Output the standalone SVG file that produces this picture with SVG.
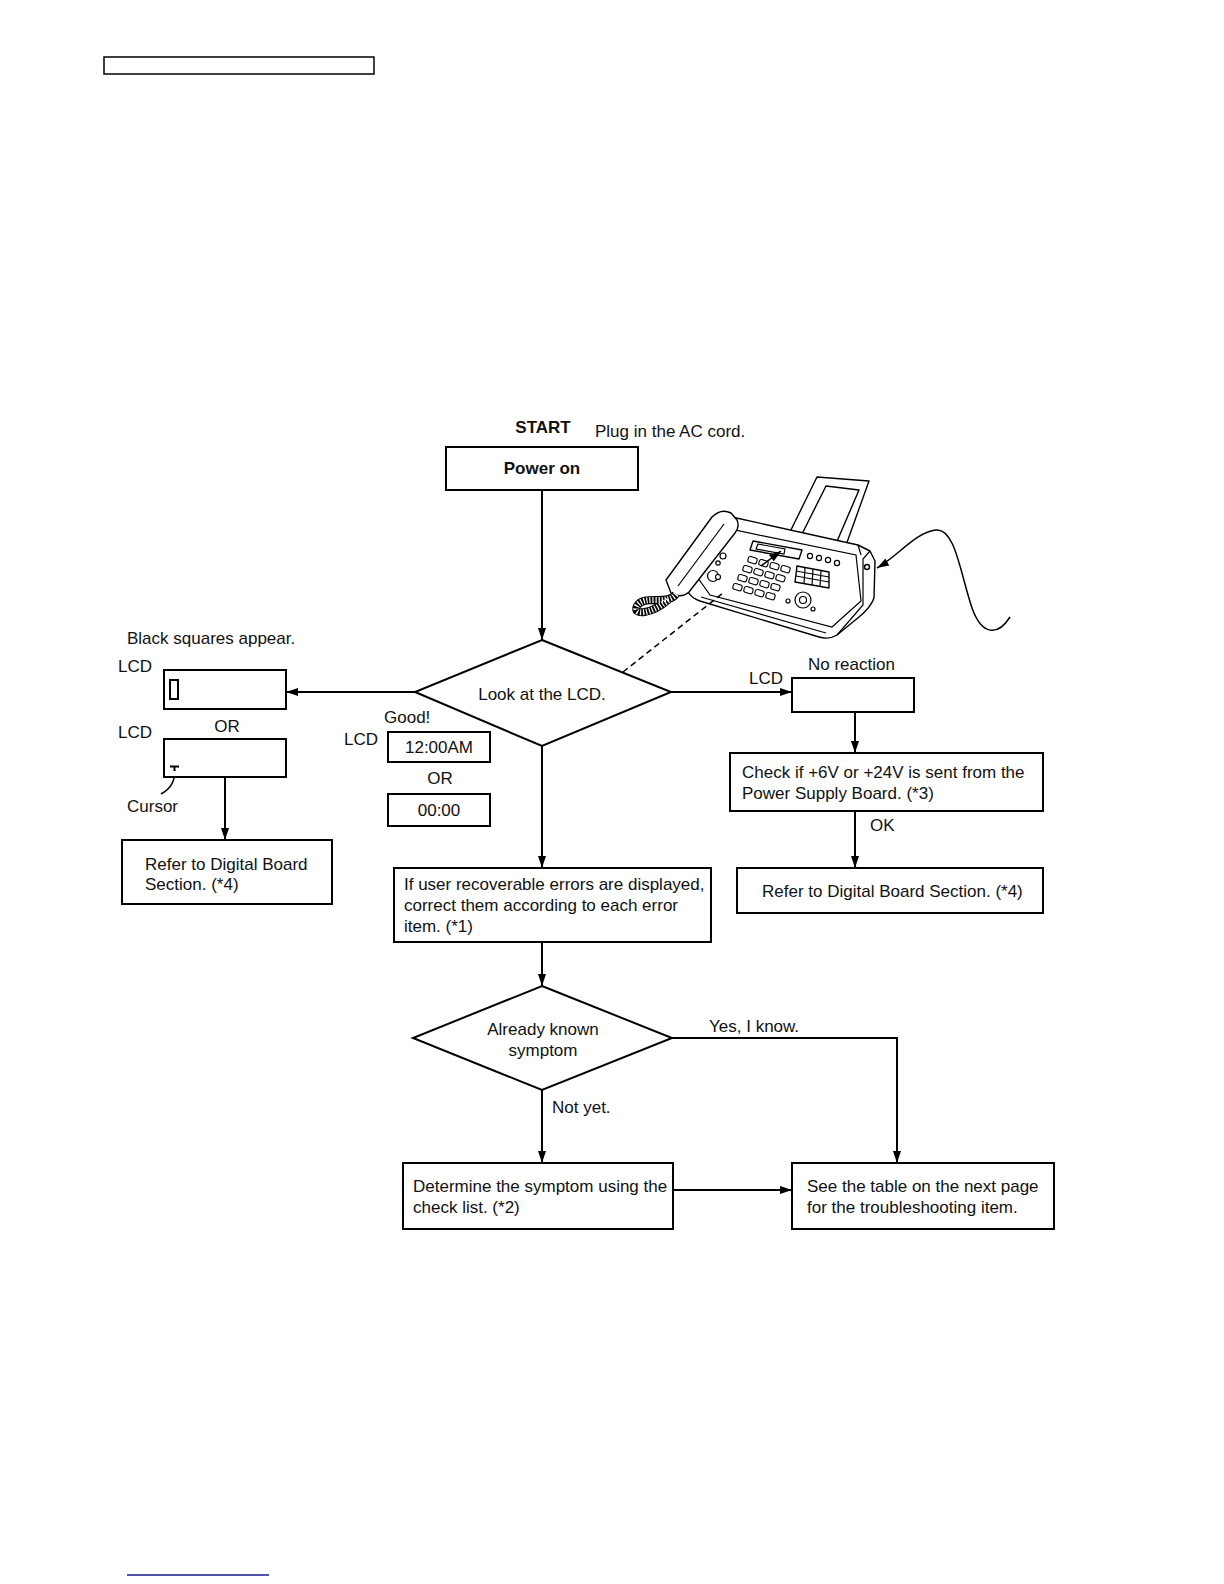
<svg xmlns="http://www.w3.org/2000/svg" width="1224" height="1584" viewBox="0 0 1224 1584">
<defs>
<marker id="ah" viewBox="0 0 12 8" refX="12" refY="4" markerWidth="12" markerHeight="8" markerUnits="userSpaceOnUse" orient="auto">
<path d="M0,0 L12,4 L0,8 Z" fill="#000"/>
</marker>
<style>
text{font-family:"Liberation Sans",Arial,sans-serif;font-size:17px;fill:#111}
.b{font-weight:bold}
.m{text-anchor:middle}
.box{fill:#fff;stroke:#000;stroke-width:2}
.con{fill:none;stroke:#000;stroke-width:2}
.art{fill:#fff;stroke:#000;stroke-width:1.4;stroke-linejoin:round}
.artl{fill:none;stroke:#000;stroke-width:1.2}
</style>
</defs>
<rect width="1224" height="1584" fill="#fff"/>
<rect x="104" y="57" width="270" height="17" fill="none" stroke="#000" stroke-width="1.5"/>
<line x1="127" y1="1575" x2="269" y2="1575" stroke="#1a1a8c" stroke-width="1.5"/>

<!-- fax machine illustration -->
<g id="fax">
<path class="art" d="M786,540 L817,477 L869,481 L845,548 L835,546 L859,490 L826,486 L797,544 Z"/>
<path class="art" d="M686,580 L720,522 Q724,516 732,517 L858,545 L870,551 L875,561 L874,598 Q871,607 859,617 L837,635 Q829,640 819,637 L700,601 Q684,595 686,580 Z"/>
<path class="artl" d="M698,578 L730,529 L856,555 L861,601 L832,627 L710,595 Z"/>
<path class="artl" d="M858,545 L861,555 M870,551 L863,559 L863,605 L837,635"/>
<path class="artl" d="M701,597 L826,633"/>
<circle class="art" cx="867" cy="567" r="2.5"/>
<path class="art" d="M753,541 L802,550 L799,559 L750,550 Z"/>
<path class="artl" d="M758,544 L785,549 L784,554 L756,549 Z"/>
<g fill="#fff" stroke="#000" stroke-width="1.1">
<rect x="748" y="557" width="9" height="6" rx="2" transform="rotate(16 752 560)"/>
<rect x="759" y="560" width="9" height="6" rx="2" transform="rotate(16 763 563)"/>
<rect x="770" y="563" width="9" height="6" rx="2" transform="rotate(16 774 566)"/>
<rect x="781" y="566" width="9" height="6" rx="2" transform="rotate(16 785 569)"/>
<rect x="743" y="566" width="9" height="6" rx="2" transform="rotate(16 747 569)"/>
<rect x="754" y="569" width="9" height="6" rx="2" transform="rotate(16 758 572)"/>
<rect x="765" y="572" width="9" height="6" rx="2" transform="rotate(16 769 575)"/>
<rect x="776" y="575" width="9" height="6" rx="2" transform="rotate(16 780 578)"/>
<rect x="738" y="575" width="9" height="6" rx="2" transform="rotate(16 742 578)"/>
<rect x="749" y="578" width="9" height="6" rx="2" transform="rotate(16 753 581)"/>
<rect x="760" y="581" width="9" height="6" rx="2" transform="rotate(16 764 584)"/>
<rect x="771" y="584" width="9" height="6" rx="2" transform="rotate(16 775 587)"/>
<rect x="733" y="584" width="9" height="6" rx="2" transform="rotate(16 737 587)"/>
<rect x="744" y="587" width="9" height="6" rx="2" transform="rotate(16 748 590)"/>
<rect x="755" y="590" width="9" height="6" rx="2" transform="rotate(16 759 593)"/>
<rect x="766" y="593" width="9" height="6" rx="2" transform="rotate(16 770 596)"/>
</g>
<g fill="#fff" stroke="#000" stroke-width="1.2">
<circle cx="810" cy="556" r="2.6"/>
<circle cx="819" cy="558" r="2.6"/>
<circle cx="828" cy="560" r="2.6"/>
<circle cx="837" cy="563" r="2.6"/>
<circle cx="723" cy="556" r="3"/>
<circle cx="718" cy="563" r="2.2"/>
<circle cx="713" cy="576" r="5.5"/>
<circle cx="718" cy="577" r="2.5"/>
<circle cx="803" cy="600" r="8"/>
<circle cx="803" cy="600" r="3.5"/>
<circle cx="788" cy="601" r="2"/>
<circle cx="813" cy="609" r="2"/>
</g>
<path class="art" d="M797,566 L829,572 L829,588 L795,582 Z"/>
<path class="artl" d="M796,571 L829,577 M796,576 L829,582 M805,568 L804,584 M813,569 L812,585 M821,571 L820,587"/>
<path class="art" d="M666,580 L712,517 Q721,508 731,513 L737,520 Q740,527 735,533 L689,592 Q681,599 671,593 Z"/>
<path class="artl" d="M678,586 L724,524"/>
<path d="M676,594 C668,606 644,594 637,606 C632,616 652,614 668,600" fill="none" stroke="#000" stroke-width="8"/>
<path d="M676,594 C668,606 644,594 637,606 C632,616 652,614 668,600" fill="none" stroke="#fff" stroke-width="6" stroke-dasharray="1.2 1.8"/>
<line x1="761" y1="566" x2="781" y2="551" stroke="#000" stroke-width="1.5" marker-end="url(#ah)"/>
<path d="M1010,617 C998,636 982,636 972,608 C960,572 955,528 936,530 C916,532 898,556 877,568" fill="none" stroke="#000" stroke-width="1.5" marker-end="url(#ah)"/>
</g>

<g id="connectors">
<line class="con" x1="542" y1="490" x2="542" y2="640" marker-end="url(#ah)"/>
<line class="con" x1="415" y1="692" x2="286" y2="692" marker-end="url(#ah)"/>
<line class="con" x1="671" y1="692" x2="792" y2="692" marker-end="url(#ah)"/>
<line class="con" x1="542" y1="746" x2="542" y2="868" marker-end="url(#ah)"/>
<line class="con" x1="225" y1="777" x2="225" y2="840" marker-end="url(#ah)"/>
<line class="con" x1="855" y1="712" x2="855" y2="753" marker-end="url(#ah)"/>
<line class="con" x1="855" y1="811" x2="855" y2="868" marker-end="url(#ah)"/>
<line class="con" x1="542" y1="942" x2="542" y2="986" marker-end="url(#ah)"/>
<line class="con" x1="542" y1="1090" x2="542" y2="1163" marker-end="url(#ah)"/>
<polyline class="con" points="672,1038 897,1038 897,1163" marker-end="url(#ah)"/>
<line class="con" x1="673" y1="1190" x2="792" y2="1190" marker-end="url(#ah)"/>
<line x1="623" y1="672" x2="723" y2="593" stroke="#000" stroke-width="1.5" stroke-dasharray="6 4"/>
<path d="M175,769 C175,780 172,788 161,794" fill="none" stroke="#000" stroke-width="1.5"/>
</g>

<g id="start">
<text class="b m" x="543" y="433">START</text>
<text x="595" y="437">Plug in the AC cord.</text>
</g>
<g id="power_on">
<rect class="box" x="446" y="447" width="192" height="43"/>
<text class="b m" x="542" y="474">Power on</text>
</g>
<g id="look_lcd">
<polygon class="box" points="542,640 671,692 542,746 415,692"/>
<text class="m" x="542" y="700">Look at the LCD.</text>
</g>
<g id="lcd_black">
<text x="127" y="644">Black squares appear.</text>
<text x="118" y="672">LCD</text>
<rect class="box" x="164" y="670" width="122" height="39"/>
<rect x="170" y="680" width="8" height="19" fill="none" stroke="#000" stroke-width="2"/>
</g>
<g id="lcd_cursor">
<text class="m" x="227" y="732">OR</text>
<text x="118" y="738">LCD</text>
<rect class="box" x="164" y="739" width="122" height="38"/>
<path d="M170,766.5 L179,766.5 M174.5,766 L174.5,771" stroke="#000" stroke-width="2"/>
<text x="127" y="812">Cursor</text>
</g>
<g id="refer_left">
<rect class="box" x="122" y="840" width="210" height="64"/>
<text x="145" y="870">Refer to Digital Board</text>
<text x="145" y="890">Section. (*4)</text>
</g>
<g id="lcd_good">
<text x="384" y="723">Good!</text>
<text x="344" y="745">LCD</text>
<rect class="box" x="388" y="732" width="102" height="30"/>
<text class="m" x="439" y="753">12:00AM</text>
<text class="m" x="440" y="784">OR</text>
<rect class="box" x="388" y="794" width="102" height="32"/>
<text class="m" x="439" y="816">00:00</text>
</g>
<g id="user_errors">
<rect class="box" x="394" y="868" width="317" height="74"/>
<text x="404" y="890">If user recoverable errors are displayed,</text>
<text x="404" y="911">correct them according to each error</text>
<text x="404" y="932">item. (*1)</text>
</g>
<g id="no_reaction">
<text x="808" y="670">No reaction</text>
<text x="749" y="684">LCD</text>
<rect class="box" x="792" y="678" width="122" height="34"/>
</g>
<g id="check_power">
<rect class="box" x="730" y="753" width="313" height="58"/>
<text x="742" y="778">Check if +6V or +24V is sent from the</text>
<text x="742" y="799">Power Supply Board. (*3)</text>
<text x="870" y="831">OK</text>
</g>
<g id="refer_right">
<rect class="box" x="737" y="868" width="306" height="45"/>
<text x="762" y="897">Refer to Digital Board Section. (*4)</text>
</g>
<g id="known">
<polygon class="box" points="542,986 672,1038 542,1090 413,1038"/>
<text class="m" x="543" y="1035">Already known</text>
<text class="m" x="543" y="1056">symptom</text>
<text x="709" y="1032">Yes, I know.</text>
<text x="552" y="1113">Not yet.</text>
</g>
<g id="determine">
<rect class="box" x="403" y="1163" width="270" height="66"/>
<text x="413" y="1192">Determine the symptom using the</text>
<text x="413" y="1213">check list. (*2)</text>
</g>
<g id="see_table">
<rect class="box" x="792" y="1163" width="262" height="66"/>
<text x="807" y="1192">See the table on the next page</text>
<text x="807" y="1213">for the troubleshooting item.</text>
</g>
</svg>
